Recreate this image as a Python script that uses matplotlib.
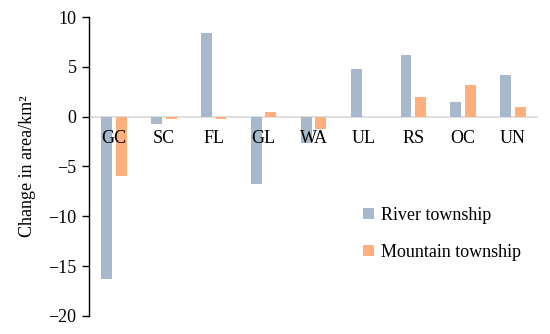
import numpy as np
import matplotlib.pyplot as plt

plt.rcParams['font.family'] = ['Liberation Serif', 'DejaVu Serif']

categories = ['GC', 'SC', 'FL', 'GL', 'WA', 'UL', 'RS', 'OC', 'UN']
river = [-16.3, -0.7, 8.35, -6.8, -2.6, 4.8, 6.2, 1.5, 4.2]
mountain = [-6.0, -0.2, -0.2, 0.5, -1.2, 0.0, 2.0, 3.2, 1.0]
yticks = [10, 5, 0, -5, -10, -15, -20]

fig = plt.figure(figsize=(5.5, 3.34), dpi=100)
ax = fig.add_axes([0.162, 0.054, 0.816, 0.895])

x = np.arange(len(categories))
w = 0.22
ax.bar(x - 0.145, river, w, color='#A7B8CC', label='River township', zorder=2)
ax.bar(x + 0.145, mountain, w, color='#FFAF7C', label='Mountain township', zorder=2)
ax.axhline(0, color='#D9D9D9', lw=1.2, zorder=1)

for xi, c in zip(x, categories):
    ax.text(xi, -2.2, c, ha='center', va='center', fontsize=13, zorder=3)

ax.set_xlim(-0.5, len(categories) - 0.5)
ax.set_ylim(-20, 10)
ax.set_yticks(yticks)
ax.set_yticklabels([str(t).replace('-', '\u2212') for t in yticks], fontsize=13)
ax.set_xticks([])
for s in ['top', 'right', 'bottom']:
    ax.spines[s].set_visible(False)
ax.spines['left'].set_linewidth(1.0)
ax.tick_params(axis='y', direction='out', length=5, width=1.0, pad=4)
ax.set_ylabel('Change in area/km\u00b2', fontsize=13, labelpad=9)

ax.legend(loc='upper left', bbox_to_anchor=(0.61, 0.365), frameon=False,
          fontsize=13, handlelength=0.6, handleheight=0.6, handletextpad=0.4,
          labelspacing=1.1, borderaxespad=0, borderpad=0)

fig.savefig('out.png', dpi=100)
